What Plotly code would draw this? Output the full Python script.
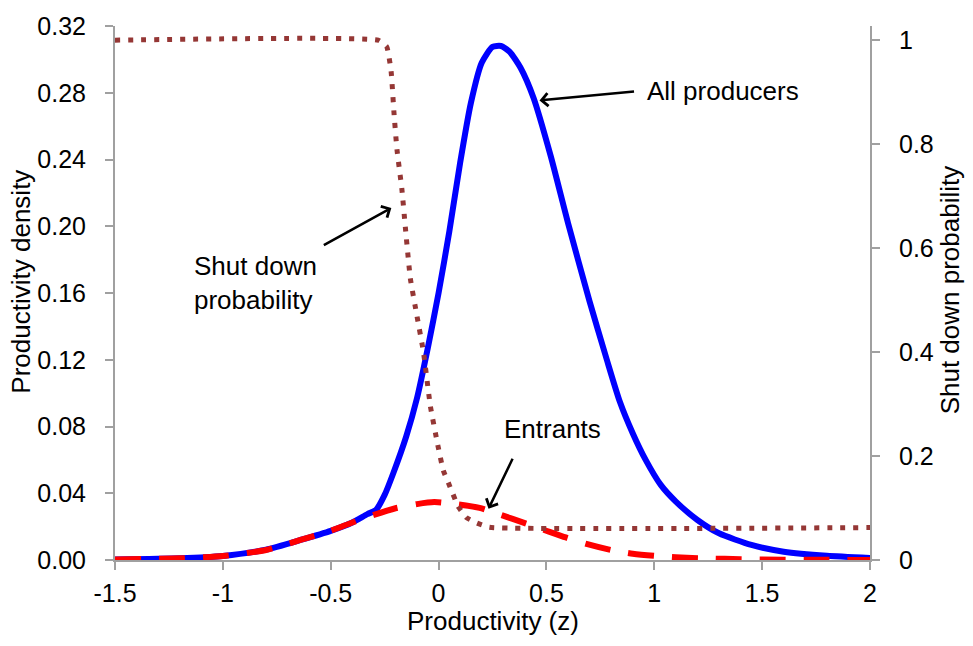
import plotly.graph_objects as go

# Productivity grid and densities (left axis)
z_all = [-1.5, -1.2, -1.0, -0.8, -0.64, -0.5, -0.4, -0.33, -0.29, -0.25, -0.21, -0.15,
         -0.10, -0.05, 0.0, 0.05, 0.10, 0.15, 0.20, 0.25, 0.29, 0.33, 0.38, 0.44, 0.52,
         0.60, 0.70, 0.78, 0.84, 0.90, 0.96, 1.03, 1.10, 1.20, 1.30, 1.45, 1.60, 1.80, 2.0]
dens_all = [0.0003, 0.001, 0.0024, 0.0062, 0.012, 0.0175, 0.0225, 0.0275, 0.030, 0.039,
            0.052, 0.074, 0.097, 0.127, 0.160, 0.197, 0.238, 0.274, 0.298, 0.3075, 0.308,
            0.3045, 0.295, 0.277, 0.242, 0.202, 0.155, 0.120, 0.095, 0.076, 0.060, 0.045,
            0.035, 0.024, 0.016, 0.009, 0.005, 0.0025, 0.0012]

z_ent = [-1.5, -1.2, -1.0, -0.8, -0.64, -0.5, -0.4, -0.3, -0.2, -0.1, -0.02, 0.09, 0.19,
         0.29, 0.39, 0.49, 0.59, 0.69, 0.80, 0.90, 1.0, 1.1, 1.25, 1.4, 1.6, 1.8, 2.0]
dens_ent = [0.0003, 0.001, 0.0024, 0.006, 0.012, 0.0175, 0.0225, 0.027, 0.031, 0.0335,
            0.0347, 0.0333, 0.0312, 0.027, 0.0225, 0.018, 0.0135, 0.0095, 0.006, 0.0038,
            0.0025, 0.0016, 0.0009, 0.0005, 0.0002, 0.0001, 0.0]

# Shut down probability (right axis)
z_exit = [-1.5, -0.28, -0.24, -0.22, -0.207, -0.193, -0.17, -0.154, -0.131, -0.10, -0.07,
          -0.038, -0.005, 0.022, 0.045, 0.091, 0.128, 0.178, 0.235, 2.0]
p_exit = [1.0, 1.0, 0.987, 0.94, 0.862, 0.79, 0.713, 0.64, 0.542, 0.469, 0.40, 0.296,
          0.224, 0.172, 0.149, 0.103, 0.082, 0.071, 0.063, 0.0624]

x_ticks = [-1.5, -1.0, -0.5, 0.0, 0.5, 1.0, 1.5, 2.0]
x_ticktext = ["-1.5", "-1", "-0.5", "0", "0.5", "1", "1.5", "2"]
y_ticks = [0.0, 0.04, 0.08, 0.12, 0.16, 0.20, 0.24, 0.28, 0.32]
y_ticktext = ["0.00", "0.04", "0.08", "0.12", "0.16", "0.20", "0.24", "0.28", "0.32"]
y2_ticks = [0.0, 0.2, 0.4, 0.6, 0.8, 1.0]
y2_ticktext = ["0", "0.2", "0.4", "0.6", "0.8", "1"]

FONT = "Liberation Sans, Arial, sans-serif"
AXIS_GREY = "#a0a0a0"

fig = go.Figure()
fig.add_trace(go.Scatter(x=z_all, y=dens_all, mode="lines", name="All producers",
                         line=dict(color="#0000ff", width=6, shape="spline", smoothing=0.6)))
fig.add_trace(go.Scatter(x=z_ent, y=dens_ent, mode="lines", name="Entrants",
                         line=dict(color="#ff0000", width=6, dash="26px,18px",
                                   shape="spline", smoothing=0.6)))
fig.add_trace(go.Scatter(x=z_exit, y=p_exit, mode="lines", name="Shut down probability",
                         yaxis="y2",
                         line=dict(color="#953735", width=5, dash="5px,8px",
                                   shape="spline", smoothing=0.4)))

axis_common = dict(showgrid=False, zeroline=False, showline=True, linecolor=AXIS_GREY,
                   linewidth=2, ticks="outside", ticklen=8, tickwidth=2,
                   tickcolor=AXIS_GREY, tickfont=dict(family=FONT, size=25, color="#000"))

fig.update_layout(
    width=973, height=646,
    margin=dict(l=115, r=103, t=22, b=86),
    paper_bgcolor="white", plot_bgcolor="white",
    showlegend=False,
    font=dict(family=FONT, size=25, color="#000"),
    xaxis=dict(range=[-1.5, 2.0], tickvals=x_ticks, ticktext=x_ticktext,
               ticklabelstandoff=2, **axis_common),
    yaxis=dict(range=[0, 0.32], tickvals=y_ticks, ticktext=y_ticktext,
               ticklabelstandoff=14, **axis_common),
    yaxis2=dict(range=[0, 1.0273], tickvals=y2_ticks, ticktext=y2_ticktext,
                overlaying="y", side="right", ticklabelstandoff=14, **axis_common),
)

arrow = dict(showarrow=True, arrowhead=4, arrowsize=1, arrowwidth=2.5,
             arrowcolor="#000", text=" ", font=dict(size=1), standoff=0,
             xref="x", yref="y")
fig.add_annotation(x=0.468, y=0.2754, ax=96, ay=-9, **arrow)
fig.add_annotation(x=-0.219, y=0.211, ax=-69, ay=38, **arrow)
fig.add_annotation(x=0.2316, y=0.0307, ax=25, ay=-52, **arrow)

label = dict(showarrow=False, xref="x", yref="y", font=dict(family=FONT, size=26, color="#000"))
fig.add_annotation(x=0.957, y=0.2812, text="All producers", xanchor="left", yanchor="middle", **label)
fig.add_annotation(x=-1.142, y=0.1659, text="Shut down<br>probability", xanchor="left",
                   yanchor="middle", align="left", **label)
fig.add_annotation(x=0.527, y=0.0785, text="Entrants", xanchor="center", yanchor="middle", **label)

# Axis titles
title = dict(showarrow=False, xref="paper", yref="paper",
             font=dict(family=FONT, size=26, color="#000"))
fig.add_annotation(x=0.5, y=-0.114, text="Productivity (z)", xanchor="center", yanchor="middle", **title)
fig.add_annotation(x=-0.124, y=0.522, text="Productivity density", textangle=-90,
                   xanchor="center", yanchor="middle", **title)
fig.add_annotation(x=1.106, y=0.505, text="Shut down probability", textangle=-90,
                   xanchor="center", yanchor="middle", **title)

fig.write_html("out.html")
